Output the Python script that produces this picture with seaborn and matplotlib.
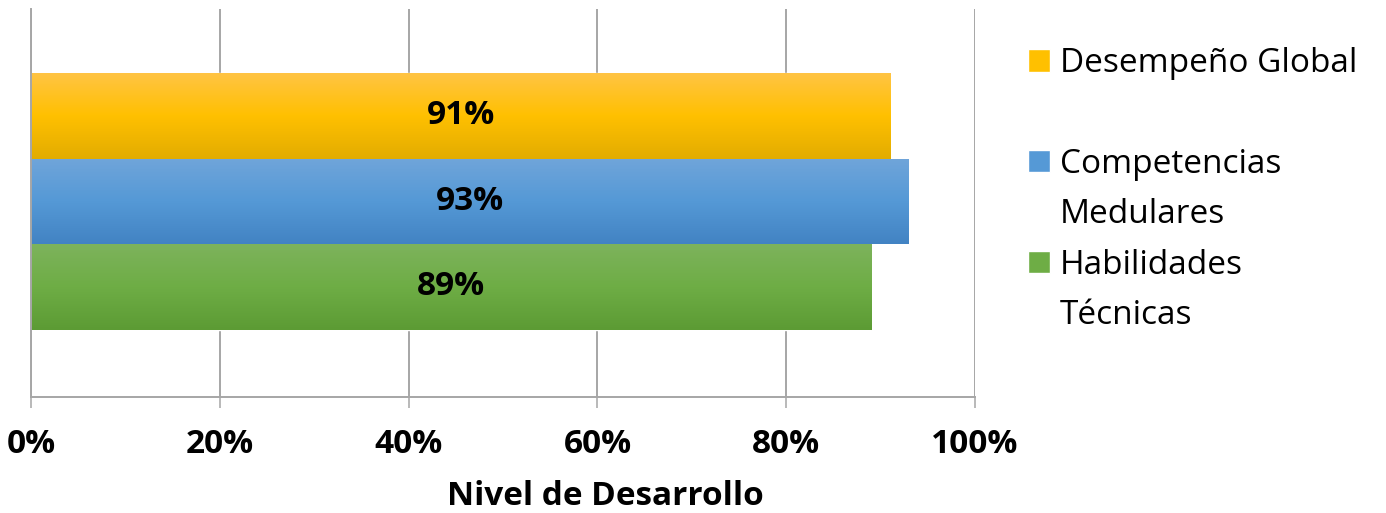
import numpy as np
import pandas as pd
import matplotlib
matplotlib.use("Agg")
import matplotlib.pyplot as plt
from matplotlib.colors import LinearSegmentedColormap
from matplotlib.patches import Patch
import seaborn as sns

# data
series = ["Desempeño Global", "Competencias Medulares", "Habilidades Técnicas"]
values = [0.91, 0.93, 0.89]
category = ["Nivel"]
x_ticks = [0, 0.2, 0.4, 0.6, 0.8, 1.0]
x_tick_labels = ["0%", "20%", "40%", "60%", "80%", "100%"]
legend_lines = ["Desempeño Global", " ", "Competencias", "Medulares", "Habilidades", "Técnicas"]

# excel-like gradient (top, middle, bottom) per series
gradients = {
    "Desempeño Global": ["#FFC444", "#FFC000", "#E2AC00"],
    "Competencias Medulares": ["#70A5DA", "#5599D6", "#4283C3"],
    "Habilidades Técnicas": ["#7DB35C", "#6EAD45", "#5C9B34"],
}

data = pd.DataFrame({
    "Categoria": category * len(series),
    "Serie": series,
    "Valor": values,
})

sns.set_style("white")
plt.rcParams["font.family"] = ["Open Sans", "DejaVu Sans"]
plt.rcParams["text.color"] = "black"
plt.rcParams["axes.labelcolor"] = "black"
plt.rcParams["xtick.labelcolor"] = "black"

fig, ax = plt.subplots(figsize=(13.86, 5.13), dpi=100)
fig.subplots_adjust(left=0.0224, right=0.7035, top=0.9825, bottom=0.2261)

palette = {s: gradients[s][1] for s in series}
sns.barplot(data=data, x="Valor", y="Categoria", hue="Serie", hue_order=series,
            orient="h", palette=palette, saturation=1, width=0.8, legend=False, ax=ax)

# gradient fill on every bar, clipped to the bar shape
for s, container in zip(series, ax.containers):
    cmap = LinearSegmentedColormap.from_list(s, gradients[s])
    grad = np.linspace(0, 1, 256).reshape(-1, 1)
    for bar in container:
        x0, y0 = bar.get_x(), bar.get_y()
        w, h = bar.get_width(), bar.get_height()
        im = ax.imshow(grad, cmap=cmap, aspect="auto", origin="upper",
                       extent=(x0, x0 + w, y0 + h, y0), zorder=bar.get_zorder() + 0.1)
        im.set_clip_path(bar)
    ax.bar_label(container, labels=[f"{v:.0%}" for v in container.datavalues],
                 label_type="center", fontsize=24, fontweight="bold", color="black",
                 zorder=5)

ax.set_xlim(0, 1.0)
ax.set_ylim(0.61, -0.60)

ax.set_xticks(x_ticks)
ax.set_xticklabels(x_tick_labels, fontsize=24, fontweight="bold")
ax.set_yticks([])
ax.set_ylabel("")
ax.set_xlabel("Nivel de Desarrollo", fontsize=24, fontweight="bold")
ax.xaxis.set_label_coords(0.608, -0.215)

ax.grid(True, axis="x", color="#A6A6A6", linewidth=1.4)
ax.set_axisbelow(True)
ax.tick_params(axis="x", direction="out", length=8, width=1.1, color="#A6A6A6",
               pad=14, bottom=True)
for side in ["top", "right"]:
    ax.spines[side].set_visible(False)
for side in ["left", "bottom"]:
    ax.spines[side].set_color("#A6A6A6")
    ax.spines[side].set_linewidth(1.4)

# legend: one row per text line, swatch on the first line of each entry
handles = [
    Patch(facecolor=gradients[series[0]][1]),
    Patch(facecolor="none", edgecolor="none"),
    Patch(facecolor=gradients[series[1]][1]),
    Patch(facecolor="none", edgecolor="none"),
    Patch(facecolor=gradients[series[2]][1]),
    Patch(facecolor="none", edgecolor="none"),
]
fig.legend(handles, legend_lines, loc="upper left", bbox_to_anchor=(0.7417, 0.908),
           frameon=False, fontsize=24, handlelength=0.66, handleheight=0.66,
           handletextpad=0.3, labelspacing=0.52, borderpad=0, borderaxespad=0)

plt.savefig("out.png", dpi=100)
plt.close()
